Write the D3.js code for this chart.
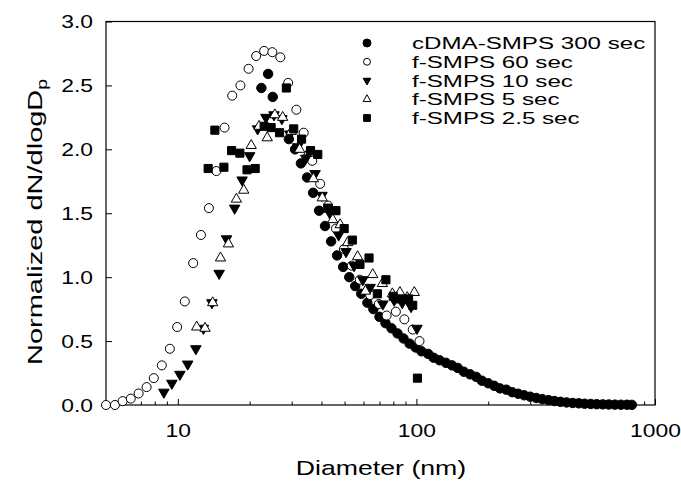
<!DOCTYPE html>
<html>
<head>
<meta charset="utf-8">
<script src="https://cdn.jsdelivr.net/npm/d3@7"></script>
<style>
  html, body { margin: 0; padding: 0; background: #ffffff; }
  svg { display: block; }
  text { font-family: 'Liberation Sans', Arial, sans-serif; fill: #000; }
</style>
</head>
<body>
<div id="container"></div>
<script>
//### DATA ###
//>>> cDMA-SMPS 300 sec (filled circles):
const cdmaDiam = [ 22.4, 23.9, 25.0, 29.2, 31.0, 32.8, 34.8, 36.9, 39.1, 41.4, 43.9, 46.5, 49.3, 52.3, 55.4, 58.7, 62.3, 66.0, 70.0, 74.2, 78.6, 83.3, 88.3, 93.6, 99.2,
  105, 112, 118, 125, 133, 141, 149, 158, 168, 178, 188, 200, 212, 224, 238, 252, 267, 283, 300, 318, 337, 358, 379, 402, 426, 452, 479, 507, 538, 570, 604, 640, 679, 720, 763, 800 ];
const cdmaConc = [ 2.48, 2.59, 2.41, 2.08, 2.00, 1.89, 1.78, 1.66, 1.52, 1.40, 1.28, 1.17, 1.08, 1.00, 0.93, 0.87, 0.80, 0.75, 0.69, 0.64, 0.60, 0.56, 0.52, 0.48, 0.45,
  0.42, 0.40, 0.37, 0.35, 0.33, 0.31, 0.29, 0.26, 0.24, 0.22, 0.19, 0.17, 0.15, 0.13, 0.12, 0.10, 0.088, 0.076, 0.065, 0.055, 0.046, 0.038, 0.031, 0.025, 0.020, 0.016, 0.013, 0.010, 0.008, 0.006, 0.005, 0.004, 0.003, 0.002, 0.002, 0.001 ];

//>>> f-SMPS 60 sec (open circles):
const s60Diam = [ 5.0, 5.45, 5.87, 6.35, 6.85, 7.4, 7.93, 8.57, 9.26, 9.94, 10.7, 11.6, 12.5, 13.5, 14.5, 15.7, 16.9, 18.3, 19.8, 21.3,
  23.0, 24.9, 26.9, 29.0, 31.4, 33.7, 36.6, 39.5, 42.6, 46.0, 49.7, 53.6, 57.9, 64.0, 69.6, 75.0, 82.0, 89.0, 96.5, 103 ];
const s60Conc = [ 0.0, 0.0, 0.03, 0.05, 0.09, 0.14, 0.21, 0.31, 0.44, 0.61, 0.81, 1.11, 1.33, 1.54, 1.83, 2.17, 2.42, 2.50, 2.63, 2.73,
  2.77, 2.76, 2.72, 2.52, 2.31, 2.13, 1.91, 1.73, 1.56, 1.38, 1.22, 1.09, 0.98, 0.86, 0.79, 0.70, 0.73, 0.67, 0.59, 0.50 ];

//>>> f-SMPS 10 sec (filled down triangles):
const s10Diam = [ 8.74, 9.44, 10.2, 11.0, 11.9, 12.8, 13.9, 14.9, 16.0, 17.3, 18.6, 20.0, 21.6, 23.4, 25.3, 27.3, 29.5, 31.8, 34.4, 37.6,
  40.2, 43.4, 47.2, 50.7, 54.8, 59.6, 64.0, 72.3, 80.7, 87.2, 95.0, 100.5 ];
const s10Conc = [ 0.10, 0.17, 0.24, 0.32, 0.44, 0.60, 0.80, 1.03, 1.30, 1.54, 1.76, 1.95, 2.16, 2.25, 2.27, 2.24, 2.12, 2.02, 1.93, 1.81,
  1.64, 1.50, 1.33, 1.20, 1.09, 0.98, 0.92, 0.79, 0.82, 0.80, 0.77, 0.60 ];

//>>> f-SMPS 5 sec (open up triangles):
const s5Diam = [ 12.0, 13.0, 14.0, 15.1, 16.3, 17.6, 18.9, 20.3, 21.9, 23.7, 25.5, 27.5, 29.9, 32.4, 35.4, 37.0, 40.3, 44.6, 47.9, 51.5,
  56.7, 61.1, 65.6, 72.0, 79.3, 85.3, 91.5, 98.0 ];
const s5Conc = [ 0.61, 0.60, 0.80, 1.15, 1.26, 1.61, 1.68, 2.03, 2.18, 2.09, 2.27, 2.25, 2.14, 2.00, 1.98, 1.77, 1.62, 1.45, 1.41, 1.27,
  1.16, 0.89, 1.02, 0.95, 0.87, 0.88, 0.84, 0.88 ];

//>>> f-SMPS 2.5 sec (filled squares):
const s25Diam = [ 13.4, 14.3, 15.6, 16.8, 18.2, 19.5, 21.1, 23.0, 24.6, 26.7, 28.5, 30.6, 33.0, 36.0, 38.6, 42.6, 46.0, 49.8, 53.9, 58.0,
  63.3, 68.6, 74.5, 80.0, 85.3, 92.7, 96.5, 101 ];
const s25Conc = [ 1.85, 2.15, 1.86, 1.99, 1.97, 1.84, 1.85, 2.18, 2.17, 2.13, 2.48, 2.16, 2.08, 1.99, 1.96, 1.54, 1.52, 1.38, 1.29, 1.10,
  1.15, 0.87, 0.98, 0.85, 0.83, 0.83, 0.78, 0.21 ];

//>>> Labels and ticks:
const seriesNames = [ 'cDMA-SMPS 300 sec', 'f-SMPS 60 sec', 'f-SMPS 10 sec', 'f-SMPS 5 sec', 'f-SMPS 2.5 sec' ];
const xMajorTicks = [ 10, 100, 1000 ];
const xMinorTicks = [ 6, 7, 8, 9, 20, 30, 40, 50, 60, 70, 80, 90, 200, 300, 400, 500, 600, 700, 800, 900 ];
const yTicks = [ 0, 0.5, 1.0, 1.5, 2.0, 2.5, 3.0 ];


//### CREATE THE CHART ###
//_____ LAYOUT _____
const width = 681;
const height = 487;
const plot = { left: 106, right: 655, top: 21.5, bottom: 405 };
//--- text in the source figure is drawn wide, so glyphs get a horizontal stretch
const tickStretch = 1.27;

const svg = d3.select( '#container' )
  .append( 'svg' )
  .attr( 'width', width )
  .attr( 'height', height );

//_____ SCALES _____
const xScale = d3.scaleLog()
  .domain( [ 5, 1000 ] )
  .range( [ plot.left, plot.right ] );

const yScale = d3.scaleLinear()
  .domain( [ 0, 3 ] )
  .range( [ plot.bottom, plot.top ] );

//_____ AXES _____
//>>> X-axis, major ticks (inward):
const xAxis = svg.append( 'g' )
  .attr( 'id', 'x-axis' )
  .attr( 'transform', `translate( 0, ${plot.bottom} )` )
  .call( d3.axisBottom( xScale ).tickValues( xMajorTicks ).tickSize( -6 ).tickFormat( d3.format( 'd' ) ) );

xAxis.selectAll( 'text' )
  .attr( 'y', 26 )
  .attr( 'dy', '0.36em' )
  .style( 'font-size', '18px' )
  .attr( 'transform', `scale( ${tickStretch}, 1 )` );

//>>> X-axis, minor ticks:
svg.append( 'g' )
  .attr( 'transform', `translate( 0, ${plot.bottom} )` )
  .call( d3.axisBottom( xScale ).tickValues( xMinorTicks ).tickSize( -3.5 ).tickFormat( '' ) );

//>>> Y-axis:
const yAxis = svg.append( 'g' )
  .attr( 'id', 'y-axis' )
  .attr( 'transform', `translate( ${plot.left}, 0 )` )
  .call( d3.axisLeft( yScale ).tickValues( yTicks ).tickSize( -6 ).tickFormat( d3.format( '.1f' ) ) );

yAxis.selectAll( 'text' )
  .attr( 'x', -13 / tickStretch )
  .attr( 'dy', '0.36em' )
  .style( 'font-size', '18px' )
  .attr( 'transform', `scale( ${tickStretch}, 1 )` );

svg.selectAll( '.domain' ).remove();
svg.selectAll( '.tick line' ).attr( 'stroke', '#000' ).attr( 'stroke-width', 1 );

//>>> Frame:
svg.append( 'rect' )
  .attr( 'x', plot.left )
  .attr( 'y', plot.top )
  .attr( 'width', plot.right - plot.left )
  .attr( 'height', plot.bottom - plot.top )
  .attr( 'fill', 'none' )
  .attr( 'stroke', '#000' )
  .attr( 'stroke-width', 1.2 );

//_____ AXES LABELS _____
svg.append( 'text' )
  .attr( 'transform', 'translate( 381, 475 ) scale( 1.27, 1 )' )
  .attr( 'text-anchor', 'middle' )
  .style( 'font-size', '21px' )
  .text( 'Diameter (nm)' );

const yLabel = svg.append( 'text' )
  .attr( 'transform', 'translate( 42, 222 ) rotate( -90 ) scale( 1.38, 1 )' )
  .attr( 'text-anchor', 'middle' )
  .style( 'font-size', '21px' );
yLabel.append( 'tspan' ).text( 'Normalized dN/dlogD' );
yLabel.append( 'tspan' ).attr( 'dy', 5 ).style( 'font-size', '14px' ).text( 'p' );

//_____ MARKERS _____
const circle = d3.symbol().type( d3.symbolCircle );
const triangle = d3.symbol().type( d3.symbolTriangle );
const square = d3.symbol().type( d3.symbolSquare );

const seriesList = [
  { diam: cdmaDiam, conc: cdmaConc, shape: circle, size: 70, legendSize: 50, fill: '#000', rotate: 0 },
  { diam: s60Diam, conc: s60Conc, shape: circle, size: 64, legendSize: 38, fill: '#fff', rotate: 0 },
  { diam: s10Diam, conc: s10Conc, shape: triangle, size: 48, legendSize: 26, fill: '#000', rotate: 180 },
  { diam: s5Diam, conc: s5Conc, shape: triangle, size: 46, legendSize: 26, fill: '#fff', rotate: 0 },
  { diam: s25Diam, conc: s25Conc, shape: square, size: 66, legendSize: 46, fill: '#000', rotate: 0 }
];

seriesList.forEach( ( s, i ) => {
  svg.append( 'g' )
    .attr( 'class', 'series-' + i )
    .selectAll( 'path' )
    .data( s.diam.map( ( d, j ) => [ d, s.conc[ j ] ] ) )
    .enter().append( 'path' )
    .attr( 'transform', d => `translate( ${xScale( d[ 0 ] )}, ${yScale( d[ 1 ] )} ) rotate( ${s.rotate} )` )
    .attr( 'd', s.shape.size( s.size )() )
    .attr( 'fill', s.fill )
    .attr( 'stroke', '#000' )
    .attr( 'stroke-width', 1 );
} );

//_____ LEGEND _____
const legend = svg.append( 'g' ).attr( 'id', 'legend' );

seriesNames.forEach( ( name, i ) => {
  const s = seriesList[ i ];
  const rowY = 43 + i * 18.75;

  legend.append( 'path' )
    .attr( 'transform', `translate( 367, ${rowY} ) rotate( ${s.rotate} )` )
    .attr( 'd', s.shape.size( s.legendSize )() )
    .attr( 'fill', s.fill )
    .attr( 'stroke', '#000' )
    .attr( 'stroke-width', 1 );

  legend.append( 'text' )
    .attr( 'transform', `translate( 412, ${rowY} ) scale( 1.42, 1 )` )
    .attr( 'dy', '0.36em' )
    .style( 'font-size', '17px' )
    .text( name );
} );
</script>
</body>
</html>
